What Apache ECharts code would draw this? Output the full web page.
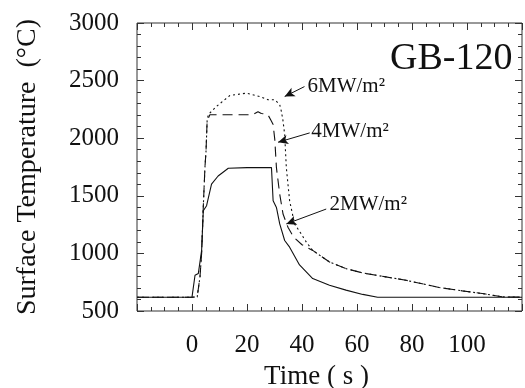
<!DOCTYPE html>
<html>
<head>
<meta charset="utf-8">
<script src="https://cdn.jsdelivr.net/npm/echarts@6/dist/echarts.min.js"></script>
<style>
  html, body { margin: 0; padding: 0; background: #fff; }
  #container { width: 525px; height: 388px; }
</style>
</head>
<body>
<div id="container"></div>
<script>
const dom = document.getElementById('container')
const myChart = echarts.init(dom)

// 2 MW/m2 (solid)
const time2 = [-20, 0, 0.2, 1.1, 2.3, 3.5, 4.1, 5.3, 7.1, 9.5, 13.2, 20, 28.9, 29.5, 30.7, 31.9, 33.7, 35.5, 39.1, 43.9, 50, 56, 62.1, 67.5, 80, 100, 120]
const temp2 = [620, 620, 625, 810, 825, 1026, 1370, 1414, 1601, 1672, 1739, 1745, 1745, 1457, 1399, 1256, 1112, 1054, 900, 782, 724, 681, 644, 620, 620, 620, 620]

// 4 MW/m2 (dashed)
const time4 = [-20, 0, 1.9, 2.9, 3.5, 4.1, 4.7, 5.1, 5.5, 6.5, 15, 22, 24, 25.2, 27.6, 28.9, 29.5, 30.1, 30.7, 31.9, 33.1, 34.9, 37, 40, 43.9, 50, 56, 62.1, 70.5, 77.8, 89.9, 98.3, 106.8, 112.8, 120]
const temp4 = [620, 620, 623, 796, 1000, 1400, 1744, 1888, 2150, 2204, 2204, 2204, 2230, 2215, 2204, 2147, 2118, 1990, 1744, 1514, 1342, 1227, 1140, 1075, 1026, 925, 868, 830, 796, 767, 704, 675, 647, 623, 620]

// 6 MW/m2 (dotted)
const time6 = [-20, 0, 1.9, 2.9, 3.5, 4.1, 4.7, 5.1, 5.5, 5.9, 8.9, 13.8, 19.8, 24.6, 27.6, 30.1, 31.9, 32.5, 33.1, 33.7, 34.3, 35.5, 37.3, 39.7, 41.6, 43.9, 50, 56, 62.1, 70.5, 77.8, 89.9, 98.3, 106.8, 112.8, 120]
const temp6 = [620, 620, 623, 796, 1000, 1400, 1744, 1888, 2150, 2204, 2276, 2371, 2391, 2362, 2334, 2334, 2291, 2233, 2150, 2032, 1744, 1457, 1256, 1170, 1097, 1026, 925, 868, 830, 796, 767, 704, 675, 647, 623, 620]

const xTickLabels = [0, 20, 40, 60, 80, 100]
const yTickLabels = [500, 1000, 1500, 2000, 2500, 3000]

// annotation: [label, labelX, labelY, arrowFromX, arrowFromY, arrowToX, arrowToY]
const notes = [
    ['6MW/m²', 42.0, 2448, 40.9, 2448, 33.7, 2362],
    ['4MW/m²', 43.4, 2060, 42.8, 2046, 31.3, 1965],
    ['2MW/m²', 50.0, 1428, 48.8, 1385, 34.3, 1256]
]

const font = "'Liberation Serif', 'Times New Roman', serif"
const ink = '#111'

const pairs = (xs, ys) => xs.map((x, i) => [x, ys[i]])

// the box comes from the grid border; axes only add the inward ticks
const frame = (split) => ({
    axisLine: { show: false, onZero: false },
    axisTick: { show: true, inside: true, length: 7, lineStyle: { color: '#333', width: 1 } },
    minorTick: { show: true, splitNumber: split, length: 4, lineStyle: { color: '#333', width: 1 } },
    splitLine: { show: false }
})

const option = {
    animation: false,
    backgroundColor: '#fff',
    grid: {
        left: 137, right: 3, top: 23, bottom: 77,
        outerBoundsMode: 'none',
        show: true,
        backgroundColor: 'transparent',
        borderColor: '#333',
        borderWidth: 1
    },
    graphic: [
        {
            type: 'text',
            left: 390,
            top: 40,
            style: { text: 'GB-120', font: '38px ' + font, fill: ink }
        }
    ],
    xAxis: [
        {
            ...frame(4),
            type: 'value',
            min: -20,
            max: 120,
            interval: 20,
            position: 'bottom',
            axisLabel: {
                margin: 22,
                fontSize: 25,
                fontFamily: font,
                color: ink,
                formatter: v => xTickLabels.includes(v) ? String(v) : ''
            },
            name: 'Time ( s )',
            nameLocation: 'middle',
            nameGap: 52,
            nameTextStyle: { fontSize: 27, fontFamily: font, color: ink, padding: [0, 26, 0, 0] }
        },
        {
            ...frame(4),
            type: 'value',
            min: -20,
            max: 120,
            interval: 20,
            position: 'top',
            axisLabel: { show: false }
        }
    ],
    yAxis: [
        {
            ...frame(5),
            type: 'value',
            min: 500,
            max: 3000,
            interval: 500,
            position: 'left',
            axisLabel: {
                margin: 18,
                fontSize: 25,
                fontFamily: font,
                color: ink,
                formatter: v => yTickLabels.includes(v) ? String(v) : ''
            },
            name: 'Surface Temperature  (°C)',
            nameLocation: 'middle',
            nameGap: 95,
            nameRotate: 90,
            nameTextStyle: { fontSize: 28, fontFamily: font, color: ink }
        },
        {
            ...frame(5),
            type: 'value',
            min: 500,
            max: 3000,
            interval: 500,
            position: 'right',
            axisLabel: { show: false }
        }
    ],
    series: [
        {
            name: '2MW/m²',
            type: 'line',
            showSymbol: false,
            lineStyle: { color: ink, width: 1.1, type: 'solid' },
            data: pairs(time2, temp2)
        },
        {
            name: '4MW/m²',
            type: 'line',
            showSymbol: false,
            lineStyle: { color: ink, width: 1.1, type: [10, 6] },
            data: pairs(time4, temp4)
        },
        {
            name: '6MW/m²',
            type: 'line',
            showSymbol: false,
            lineStyle: { color: ink, width: 1.1, type: [2, 3] },
            data: pairs(time6, temp6),
            markLine: {
                silent: true,
                symbol: ['none', 'arrow'],
                symbolSize: [7, 10],
                lineStyle: { color: ink, width: 1, type: 'solid' },
                label: { show: false },
                data: notes.map(n => [{ coord: [n[3], n[4]] }, { coord: [n[5], n[6]] }])
            },
            markPoint: {
                silent: true,
                symbol: 'circle',
                symbolSize: 0,
                label: {
                    show: true,
                    position: 'right',
                    distance: 0,
                    fontSize: 21,
                    fontFamily: font,
                    color: ink
                },
                data: notes.map(n => ({ coord: [n[1], n[2]], value: n[0], label: { formatter: n[0] } }))
            }
        }
    ]
}

myChart.setOption(option)
</script>
</body>
</html>
